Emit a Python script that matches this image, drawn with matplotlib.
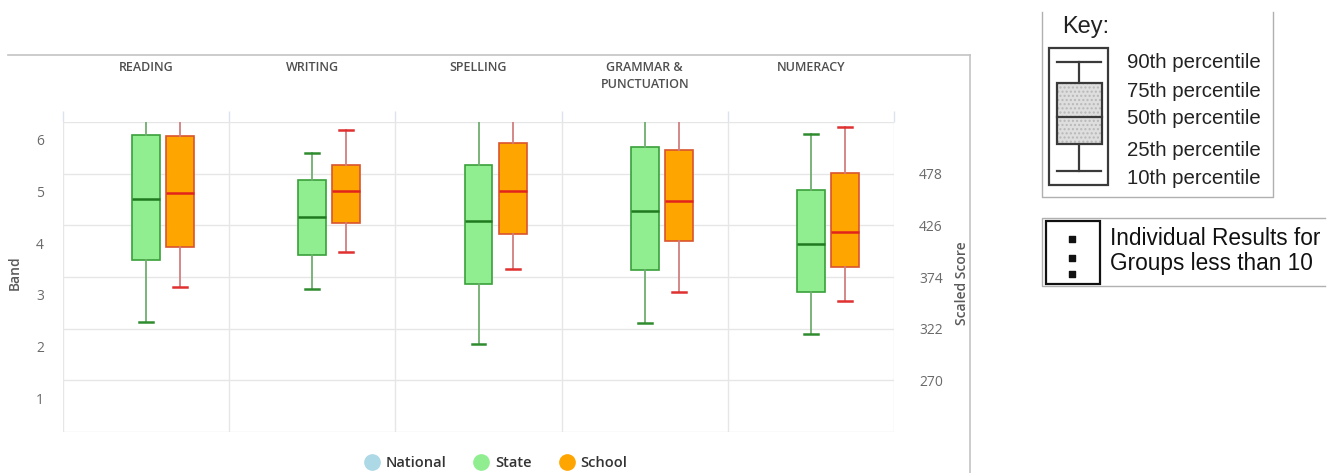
#!/usr/bin/env python3
"""NAPLAN-style band box plot: State vs School, with key panel."""

import matplotlib

matplotlib.use("Agg")
import matplotlib.pyplot as plt
import numpy as np
from matplotlib.lines import Line2D
from matplotlib.patches import Rectangle
from matplotlib.transforms import ScaledTranslation, blended_transform_factory

W, H = 1338, 473

CATEGORIES = ["READING", "WRITING", "SPELLING", "GRAMMAR &\nPUNCTUATION", "NUMERACY"]

# percentiles in scaled score units (90th clipped at top for some domains)
STATE_P10 = [329, 362, 307, 328, 317]
STATE_P25 = [391, 396, 367, 381, 359]
STATE_P50 = [453, 434, 430, 440, 407]
STATE_P75 = [517, 472, 487, 505, 462]
STATE_P90 = [545, 499, 545, 545, 518]

SCHOOL_P10 = [364, 399, 382, 359, 350]
SCHOOL_P25 = [404, 428, 417, 410, 384]
SCHOOL_P50 = [459, 461, 461, 450, 419]
SCHOOL_P75 = [516, 487, 509, 502, 479]
SCHOOL_P90 = [545, 522, 545, 545, 525]

BAND_EDGES = [218, 270, 322, 374, 426, 478, 530]
BAND_LABELS = ["1", "2", "3", "4", "5", "6"]

SERIES = ["National", "State", "School"]
SERIES_COLORS = {"National": "#ADD8E6", "State": "#90EE90", "School": "#FFA500"}

KEY_LABELS = ["90th percentile", "75th percentile", "50th percentile",
              "25th percentile", "10th percentile"]
KEY_NOTE = ["Individual Results for", "Groups less than 10"]

CHART_FONT = "Open Sans"
KEY_FONT = "Liberation Sans"


def px(x):
    return x / W


def py(y):
    return 1 - y / H


def stats(p10, p25, p50, p75, p90):
    return [
        dict(whislo=a, q1=b, med=c, q3=d, whishi=e, fliers=[])
        for a, b, c, d, e in zip(p10, p25, p50, p75, p90)
    ]


def draw_boxes(ax, st, offset, fill, edge, median, whisker, cap):
    pos = np.arange(len(st)) + offset
    ax.bxp(
        st,
        positions=pos,
        widths=0.168,
        capwidths=0.084,
        patch_artist=True,
        showfliers=False,
        boxprops=dict(facecolor=fill, edgecolor=edge, linewidth=1.2),
        medianprops=dict(color=median, linewidth=1.8),
        whiskerprops=dict(color=whisker, linewidth=1.3),
        capprops=dict(color=cap, linewidth=1.8),
        manage_ticks=False,
        zorder=3,
    )


def main():
    fig = plt.figure(figsize=(W / 100, H / 100), dpi=100)
    fig.patch.set_facecolor("white")

    ax = fig.add_axes([px(63), py(432), px(894 - 63), (432 - 122) / H])
    ax.set_xlim(-0.5, len(CATEGORIES) - 0.5)
    ax.set_ylim(BAND_EDGES[0], BAND_EDGES[-1])
    for s in ax.spines.values():
        s.set_visible(False)

    # category boundaries -> vertical grid + top tick marks
    ax.set_xticks(np.arange(len(CATEGORIES) + 1) - 0.5)
    ax.xaxis.tick_top()
    ax.tick_params(axis="x", length=8, color="#dde3ee", labeltop=False, width=1)
    ax.grid(axis="x", color="#e6e6e6", linewidth=1, zorder=0)

    # horizontal grid at band edges, scaled score labels on right
    ax.set_yticks(BAND_EDGES)
    ax.set_yticklabels([""] + [str(v) for v in BAND_EDGES[1:-1]] + [""])
    ax.yaxis.tick_right()
    ax.tick_params(axis="y", length=0, pad=18, labelsize=10, labelcolor="#6a6a6a")
    for lbl in ax.get_yticklabels():
        lbl.set_fontfamily(CHART_FONT)
    ax.grid(axis="y", color="#e6e6e6", linewidth=1, zorder=0)
    ax.set_axisbelow(True)

    # band labels on left, between edges
    ytr = blended_transform_factory(ax.transAxes, ax.transData)
    shift = ScaledTranslation(0, 6 / 100, fig.dpi_scale_trans)
    for i, b in enumerate(BAND_LABELS):
        mid = (BAND_EDGES[i] + BAND_EDGES[i + 1]) / 2
        ax.text((40 - 63) / 831, mid, b, transform=ytr + shift, ha="center",
                va="center", fontsize=10, color="#6a6a6a", family=CHART_FONT)

    # category labels above
    xtr = blended_transform_factory(ax.transData, fig.transFigure)
    for i, c in enumerate(CATEGORIES):
        ax.text(i, py(61), c, transform=xtr, ha="center", va="top",
                fontsize=9, color="#4f4f4f", family=CHART_FONT,
                fontweight="semibold", linespacing=1.35)

    draw_boxes(ax, stats(STATE_P10, STATE_P25, STATE_P50, STATE_P75, STATE_P90),
               0.0, "#90EE90", "#3aa03a", "#1f7a1f", "#6fae6f", "#2e8b2e")
    draw_boxes(ax, stats(SCHOOL_P10, SCHOOL_P25, SCHOOL_P50, SCHOOL_P75, SCHOOL_P90),
               0.205, "#FFA500", "#d9542e", "#e0231c", "#cf7f7f", "#e03030")

    fig.text(px(15), py(273), "Band", rotation=90, ha="center", va="center",
             fontsize=10, color="#5a5a5a", family=CHART_FONT, fontweight="semibold")
    fig.text(px(962), py(283), "Scaled Score", rotation=90, ha="center",
             va="center", fontsize=10, color="#5a5a5a", family=CHART_FONT,
             fontweight="semibold")

    handles = [
        Line2D([], [], marker="o", linestyle="", markersize=11,
               markerfacecolor=SERIES_COLORS[s], markeredgecolor=SERIES_COLORS[s],
               label=s)
        for s in SERIES
    ]
    leg = fig.legend(handles=handles, loc="center", ncol=3, frameon=False,
                     bbox_to_anchor=(px(496), py(463)), handletextpad=0.45,
                     columnspacing=1.9, handlelength=1.0,
                     prop={"family": CHART_FONT, "size": 10.5, "weight": "semibold"})
    for t in leg.get_texts():
        t.set_color("#333333")

    # overlay in pixel coords: chart border + key panel
    ov = fig.add_axes([0, 0, 1, 1], zorder=5)
    ov.set_xlim(0, W)
    ov.set_ylim(H, 0)
    ov.axis("off")
    ov.patch.set_visible(False)

    border = "#c4c4c4"
    ov.plot([8, 970], [55, 55], color=border, lw=1.2)
    ov.plot([970, 970], [55, H], color=border, lw=1.2)

    # key frame
    kc = "#b0b0b0"
    ov.plot([1041.7, 1041.7, 1273.3, 1273.3], [11.7, 196.7, 196.7, 11.7],
            color=kc, lw=1)
    ov.text(1061.7, 33.3, "Key:", fontsize=17, family=KEY_FONT, color="#222222",
            va="baseline")
    dark = "#3a3a3a"
    ov.add_patch(Rectangle((1049.3, 48.3), 59, 136.7, fill=False,
                           edgecolor=dark, lw=1.6))
    ov.add_patch(Rectangle((1056.7, 82.7), 45, 61.3, facecolor="#dedede",
                           edgecolor="#b8b8b8", lw=0, hatch="....", zorder=3))
    ov.add_patch(Rectangle((1056.7, 82.7), 45, 61.3, fill=False,
                           edgecolor=dark, lw=1.6, zorder=4))
    ov.plot([1056.7, 1101], [61.7, 61.7], color=dark, lw=1.6)
    ov.plot([1056.7, 1101], [170.7, 170.7], color=dark, lw=1.6)
    ov.plot([1056.7, 1101.7], [116.7, 116.7], color=dark, lw=1.6, zorder=4)
    ov.plot([1079.3, 1079.3], [61.7, 82.7], color=dark, lw=1.6)
    ov.plot([1079.3, 1079.3], [144, 170.7], color=dark, lw=1.6)
    for lbl, yb in zip(KEY_LABELS, [68.3, 96.7, 124, 155.7, 184]):
        ov.text(1126.7, yb, lbl, fontsize=14.7, family=KEY_FONT,
                color="#222222", va="baseline")

    # individual results panel
    ov.plot([1325, 1041.7, 1041.7, 1325], [218.3, 218.3, 286, 286],
            color=kc, lw=1)
    ov.add_patch(Rectangle((1046, 220.7), 54, 63.3, fill=False,
                           edgecolor="#111111", lw=1.6))
    ov.scatter([1072.3] * 3, [239, 257.7, 274.3], marker="s", s=14,
               color="#111111", zorder=4)
    for line, yb in zip(KEY_NOTE, [245, 270]):
        ov.text(1110, yb, line, fontsize=16.3, family=KEY_FONT,
                color="#111111", va="baseline")

    fig.savefig("out.png", dpi=100, facecolor="white")
    plt.close(fig)


if __name__ == "__main__":
    main()
